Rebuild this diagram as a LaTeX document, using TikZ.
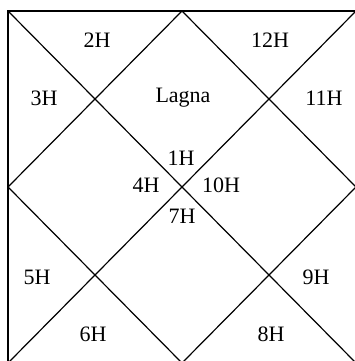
\documentclass[tikz,border=0pt]{standalone}
\usepackage{fontspec}
\setmainfont{Liberation Serif}
\begin{document}
\begin{tikzpicture}[x=1pt,y=-1pt,
  chartline/.style={line width=1.2pt, black},
  lbl/.style={font=\fontsize{22}{24}\selectfont, inner sep=0pt}]
\useasboundingbox (0,0) rectangle (355,361);
\clip (0,0) rectangle (355,361);
\coordinate (TL) at (8,11);
\coordinate (TR) at (356,11);
\coordinate (BR) at (356,363);
\coordinate (BL) at (8,363);
\coordinate (T) at (182,11);
\coordinate (R) at (356,187);
\coordinate (B) at (182,363);
\coordinate (L) at (8,187);
\draw[chartline] (TL) -- (TR) -- (BR) -- (BL) -- cycle;
\draw[chartline] (TL) -- (BR);
\draw[chartline] (TR) -- (BL);
\draw[chartline] (T) -- (R) -- (B) -- (L) -- cycle;
\node[lbl] (h2) at (97,40) {2H};
\node[lbl] (h12) at (270,40) {12H};
\node[lbl] (h3) at (44,98) {3H};
\node[lbl] (lagna) at (183,98) {Lagna};
\node[lbl] (h11) at (324,98) {11H};
\node[lbl] (h1) at (181,158) {1H};
\node[lbl] (h4) at (146,185) {4H};
\node[lbl] (h10) at (221,185) {10H};
\node[lbl] (h7) at (182,216) {7H};
\node[lbl] (h5) at (37,277) {5H};
\node[lbl] (h9) at (316,277) {9H};
\node[lbl] (h6) at (93,334) {6H};
\node[lbl] (h8) at (271,334) {8H};
\end{tikzpicture}
\end{document}
